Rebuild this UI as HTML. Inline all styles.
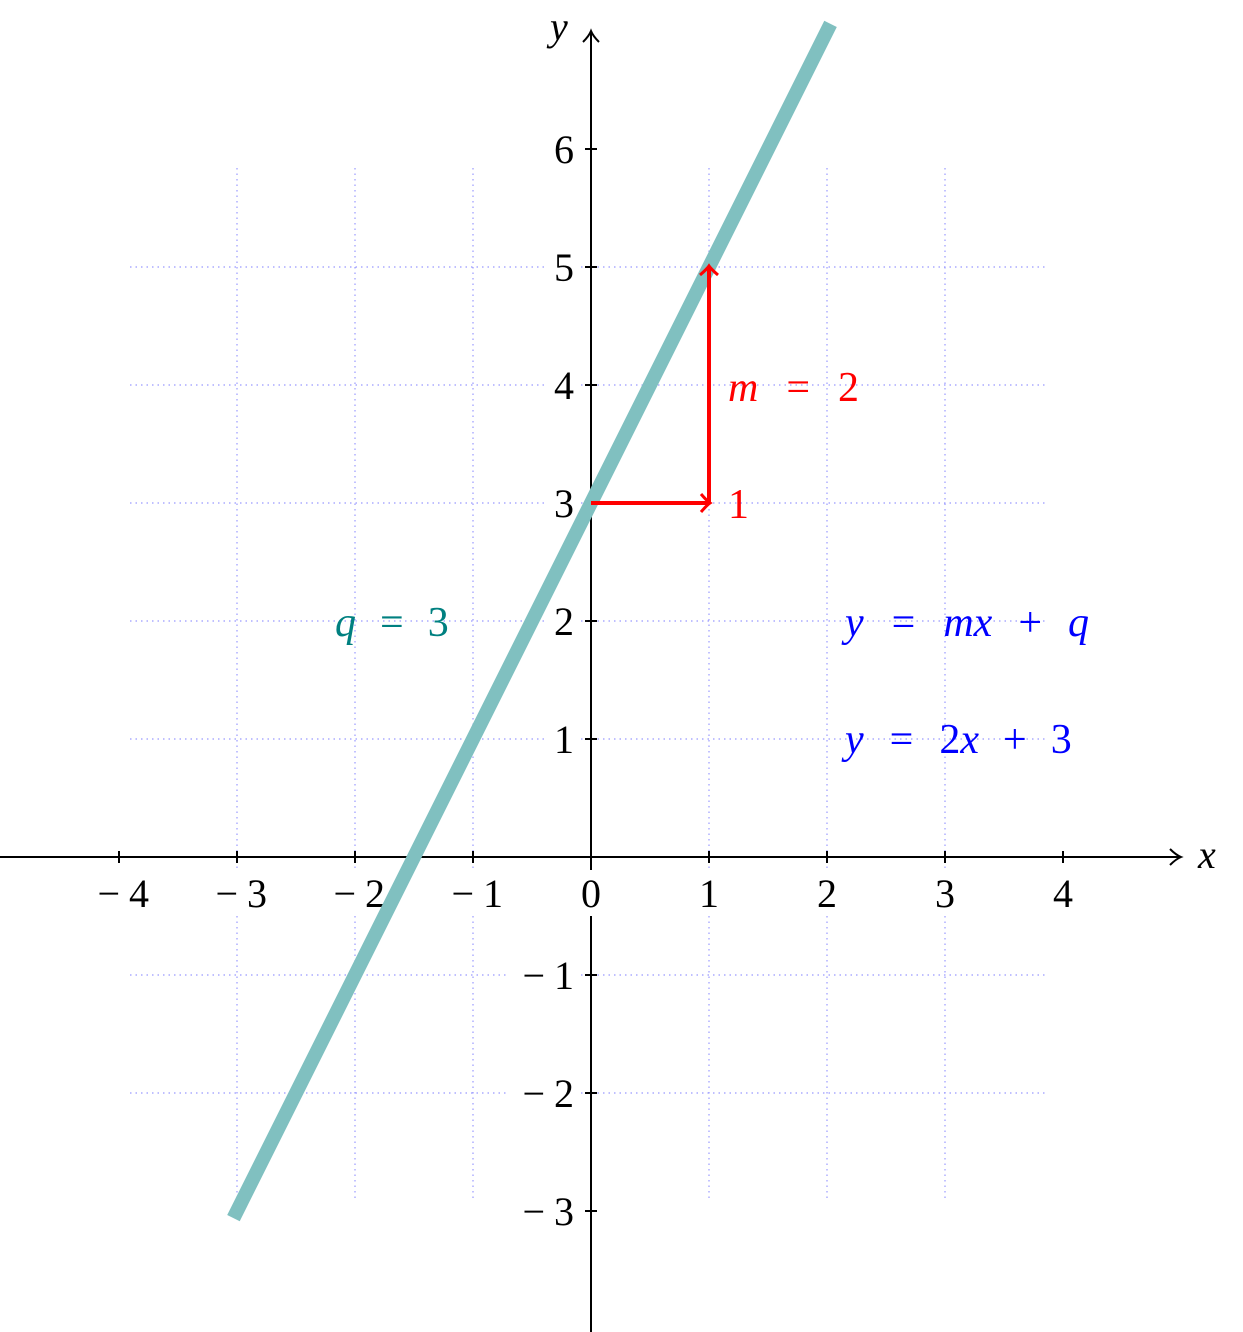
<!DOCTYPE html>
<html><head><meta charset="utf-8"><style>
body{margin:0;background:#fff}
text{font-family:"Liberation Serif",serif;font-size:40px}
.eq{font-size:42px}
</style></head><body>
<svg width="1243" height="1332" viewBox="0 0 1243 1332" style="position:absolute;left:0;top:0">
<g id="grid"></g>
<g id="axes"></g>
<g id="labels"></g>
<g id="marks"></g>
<text x="1198" y="868" font-style="italic">x</text>
<text x="550" y="40" font-style="italic">y</text>
<text class="eq" x="728" y="401" fill="#f00"><tspan font-style="italic">m</tspan><tspan dx="28">=</tspan><tspan dx="28">2</tspan></text>
<text class="eq" x="728" y="518" fill="#f00">1</text>
<text class="eq" x="335" y="636" fill="#008080"><tspan font-style="italic">q</tspan><tspan dx="24">=</tspan><tspan dx="24">3</tspan></text>
<text class="eq" x="845" y="636" fill="#00f"><tspan font-style="italic">y</tspan><tspan dx="28">=</tspan><tspan dx="28" font-style="italic">mx</tspan><tspan dx="26">+</tspan><tspan dx="26" font-style="italic">q</tspan></text>
<text class="eq" x="845" y="753" fill="#00f"><tspan font-style="italic">y</tspan><tspan dx="26">=</tspan><tspan dx="26">2</tspan><tspan font-style="italic">x</tspan><tspan dx="24">+</tspan><tspan dx="24">3</tspan></text>
</svg>
<script>
const xTicks=[-4,-3,-2,-1,0,1,2,3,4];
const yTicks=[-3,-2,-1,1,2,3,4,5,6];
const gridX=[-3,-2,-1,1,2,3];
const gridY=[-2,-1,1,2,3,4,5];
const slope=[2];
const intercept=[3];
const lineDomain=[-3.03,2.03];
const NS="http://www.w3.org/2000/svg";
const sx=v=>591+118*v, sy=v=>857-118*v;
function mk(tag,attrs,parent){const e=document.createElementNS(NS,tag);for(const k in attrs)e.setAttribute(k,attrs[k]);document.getElementById(parent).appendChild(e);return e;}
function negLabel(t,v){const m=document.createElementNS(NS,'tspan');m.textContent='−';t.appendChild(m);const d=document.createElementNS(NS,'tspan');d.setAttribute('dx','9');d.textContent=String(Math.abs(v));t.appendChild(d);}
gridX.forEach(v=>{const e=mk('line',{x1:sx(v),x2:sx(v),y1:168,y2:1200,stroke:'#9999ff','stroke-width':1.2,'stroke-dasharray':'1.5 4'},'grid');

});
gridY.forEach(v=>{const e=mk('line',{y1:sy(v),y2:sy(v),x1:130,x2:1046,stroke:'#9999ff','stroke-width':1.2,'stroke-dasharray':'1.5 4'},'grid');

});
const L=mk('line',{x1:sx(lineDomain[0]),y1:sy(slope[0]*lineDomain[0]+intercept[0]),x2:sx(lineDomain[1]),y2:sy(slope[0]*lineDomain[1]+intercept[0]),stroke:'#80c0c0','stroke-width':14},'marks');


let a=mk('line',{x1:0,y1:857,x2:1180,y2:857,stroke:'#000','stroke-width':2},'axes');


mk('path',{d:'M1170 849 Q1176 855 1181 857 Q1176 859 1170 865',fill:'none',stroke:'#000','stroke-width':2},'axes');
a=mk('line',{x1:591,y1:1332,x2:591,y2:32,stroke:'#000','stroke-width':2},'axes');


mk('path',{d:'M583 42 Q589 36 591 31 Q593 36 599 42',fill:'none',stroke:'#000','stroke-width':2},'axes');
xTicks.forEach(v=>{mk('line',{x1:sx(v),x2:sx(v),y1:851,y2:863,stroke:'#000','stroke-width':2},'axes');
mk('rect',{x:sx(v)-(v<0?42:14),y:870,width:v<0?76:28,height:46,fill:'#fff'},'labels');
let t;
if(v<0){t=mk('text',{x:sx(v)+30,y:907,'text-anchor':'end'},'labels');negLabel(t,v);}
else{t=mk('text',{x:sx(v),y:907,'text-anchor':'middle'},'labels');t.textContent=String(v);}

});
yTicks.forEach(v=>{mk('line',{x1:585,x2:597,y1:sy(v),y2:sy(v),stroke:'#000','stroke-width':2},'axes');
mk('rect',{x:v<0?508:546,y:sy(v)-24,width:v<0?70:32,height:46,fill:'#fff'},'labels');
const t=mk('text',{x:574,y:sy(v)+14,'text-anchor':'end'},'labels');
if(v<0)negLabel(t,v);else t.textContent=String(v);

});
mk('line',{x1:591,y1:sy(3),x2:sx(1),y2:sy(3),stroke:'#f00','stroke-width':4},'marks');
mk('path',{d:`M${sx(1)-8} ${sy(3)-9} Q${sx(1)-2} ${sy(3)-2} ${sx(1)+1} ${sy(3)} Q${sx(1)-2} ${sy(3)+2} ${sx(1)-8} ${sy(3)+9}`,fill:'none',stroke:'#f00','stroke-width':3},'marks');
mk('line',{x1:sx(1),y1:sy(3),x2:sx(1),y2:sy(5),stroke:'#f00','stroke-width':4},'marks');
mk('path',{d:`M${sx(1)-9} ${sy(5)+8} Q${sx(1)-2} ${sy(5)+2} ${sx(1)} ${sy(5)-1} Q${sx(1)+2} ${sy(5)+2} ${sx(1)+9} ${sy(5)+8}`,fill:'none',stroke:'#f00','stroke-width':3},'marks');
</script>
</body></html>
